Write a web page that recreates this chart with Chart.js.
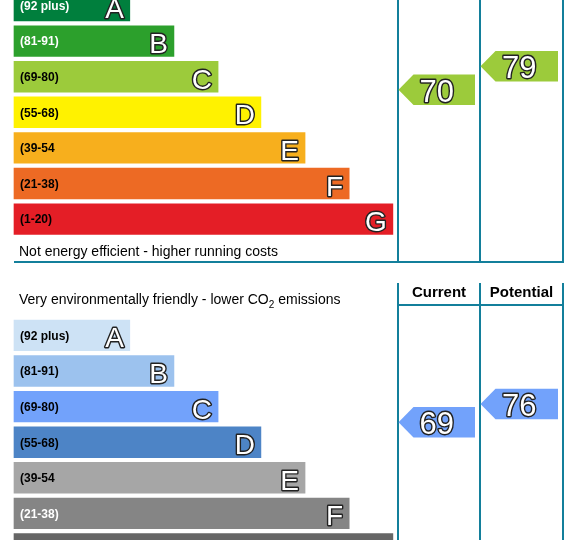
<!DOCTYPE html>
<html>
<head>
<meta charset="utf-8">
<script src="https://cdn.jsdelivr.net/npm/chart.js@4.4.0/dist/chart.umd.min.js"></script>
<style>
  html, body { margin: 0; padding: 0; background: #fff; }
  body { width: 582px; height: 540px; position: relative; overflow: hidden; }
  .box { position: absolute; left: 0; width: 582px; height: 270px; }
</style>
</head>
<body>
<div class="box" style="top:0"><canvas id="energyChart"></canvas></div>
<div class="box" style="top:270px"><canvas id="co2Chart"></canvas></div>
<script>
// Bands
const bandLetters = ["A", "B", "C", "D", "E", "F", "G"];
const bandRanges = ["(92 plus)", "(81-91)", "(69-80)", "(55-68)", "(39-54", "(21-38)", "(1-20)"];
const bandMin = [92, 81, 69, 55, 39, 21, 1];
const bandMax = [100, 91, 80, 68, 54, 38, 20];
const bandLength = [2.65, 3.66, 4.67, 5.65, 6.66, 7.67, 8.67];

// Ratings: current, potential
const energyRatings = [70, 79];
const co2Ratings = [69, 76];

const energyColors = ["#007f3d", "#2ca02c", "#9ccb3b", "#fff200", "#f7af1d", "#ed6a24", "#e41e26"];
const energyLabelColors = ["#fff", "#fff", "#000", "#000", "#000", "#000", "#000"];
const co2Colors = ["#cde2f5", "#9cc2ee", "#72a2fb", "#4d84c6", "#a6a6a6", "#858585", "#666666"];
const co2LabelColors = ["#000", "#000", "#000", "#000", "#000", "#fff", "#fff"];

// layout
const ROW = 35.6;      // px per band row
const UNIT = 43.7;     // px per bar length unit
const cols = [398, 480, 563];
const TEAL = "#137f9b";
const FONT = "'Liberation Sans', Arial, sans-serif";

function bandIndex(r) {
  return bandMin.findIndex(m => r >= m);
}

// position of a rating inside its band row
function ratingRow(r) {
  const i = bandIndex(r);
  const mid = (bandMin[i] + bandMax[i] + 1) / 2;
  return i + (mid - r) / (bandMax[i] - bandMin[i] + 1) * 0.88;
}

function outlined(ctx, text, x, y, align, font) {
  ctx.font = font;
  ctx.textAlign = align;
  ctx.textBaseline = "alphabetic";
  ctx.lineJoin = "round";
  ctx.lineWidth = 2.8;
  ctx.strokeStyle = "#222";
  ctx.strokeText(text, x, y);
  ctx.fillStyle = "#fff";
  ctx.fillText(text, x, y);
}

function line(ctx, x1, y1, x2, y2) {
  ctx.beginPath();
  ctx.moveTo(x1, y1);
  ctx.lineTo(x2, y2);
  ctx.stroke();
}

function frameEnd() {
  return cols[2] + 1;
}

const epcPlugin = {
  id: "epc",
  afterDatasetsDraw(chart, args, opts) {
    const { ctx, scales: { x, y } } = chart;
    ctx.save();

    // frame
    ctx.strokeStyle = TEAL;
    ctx.lineWidth = 2;
    ctx.fillStyle = "#000";
    ctx.textAlign = "left";
    ctx.textBaseline = "middle";
    if (opts.part === "top") {
      cols.forEach(c => line(ctx, c, 0, c, 263));
      line(ctx, 14, 262, frameEnd(), 262);
      ctx.font = "14px " + FONT;
      ctx.fillText("Not energy efficient - higher running costs", 19, 252);
    } else {
      cols.forEach(c => line(ctx, c, 13, c, 270));
      line(ctx, cols[0] - 1, 35, frameEnd(), 35);
      ctx.font = "bold 15px " + FONT;
      ctx.textAlign = "center";
      ctx.fillText("Current", (cols[0] + cols[1]) / 2, 23);
      ctx.fillText("Potential", (cols[1] + cols[2]) / 2, 23);
      ctx.textAlign = "left";
      ctx.font = "14px " + FONT;
      const t = "Very environmentally friendly - lower CO";
      ctx.fillText(t, 19, 30);
      let w = 19 + ctx.measureText(t).width;
      ctx.font = "10px " + FONT;
      ctx.fillText("2", w, 35);
      w += ctx.measureText("2").width;
      ctx.font = "14px " + FONT;
      ctx.fillText(" emissions", w, 30);
    }

    // band labels and letters
    const left = x.getPixelForValue(0);
    chart.getDatasetMeta(0).data.forEach((bar, i) => {
      ctx.font = "bold 12px " + FONT;
      ctx.fillStyle = opts.labelColors[i];
      ctx.textAlign = "left";
      ctx.textBaseline = "middle";
      ctx.fillText(bandRanges[i], left + 6, bar.y + 1);
      outlined(ctx, bandLetters[i], bar.x - 6, bar.y + 12, "right", "28px " + FONT);
    });

    // rating arrows
    opts.ratings.forEach((r, k) => {
      const cy = y.getPixelForValue(ratingRow(r));
      const l = cols[k] + 0.5, rt = cols[k + 1] - 5, h = 15.3;
      ctx.fillStyle = opts.colors[bandIndex(r)];
      ctx.beginPath();
      ctx.moveTo(l, cy);
      ctx.lineTo(l + 15, cy - h);
      ctx.lineTo(rt, cy - h);
      ctx.lineTo(rt, cy + h);
      ctx.lineTo(l + 15, cy + h);
      ctx.closePath();
      ctx.fill();
      outlined(ctx, String(r), (l + rt) / 2, cy + 12, "center", "31px " + FONT);
    });
    ctx.restore();
  }
};

function makeChart(id, colors, labelColors, ratings, firstRow, part) {
  return new Chart(document.getElementById(id), {
    type: "bar",
    data: {
      datasets: [{
        data: bandLength.map((v, i) => ({ x: v, y: i })),
        backgroundColor: colors,
        borderWidth: 0,
        barThickness: 30.7
      }]
    },
    options: {
      indexAxis: "y",
      responsive: true,
      maintainAspectRatio: false,
      animation: false,
      events: [],
      layout: { padding: 0 },
      scales: {
        x: { type: "linear", display: false, min: -14 / UNIT, max: 568 / UNIT },
        y: { type: "linear", display: false, reverse: true, offset: false,
             min: -firstRow / ROW, max: (270 - firstRow) / ROW }
      },
      plugins: {
        legend: { display: false },
        tooltip: { enabled: false },
        epc: { colors, labelColors, ratings, part }
      }
    },
    plugins: [epcPlugin]
  });
}

makeChart("energyChart", energyColors, energyLabelColors, energyRatings, 5.5, "top");
makeChart("co2Chart", co2Colors, co2LabelColors, co2Ratings, 65.4, "bottom");
</script>
</body>
</html>
